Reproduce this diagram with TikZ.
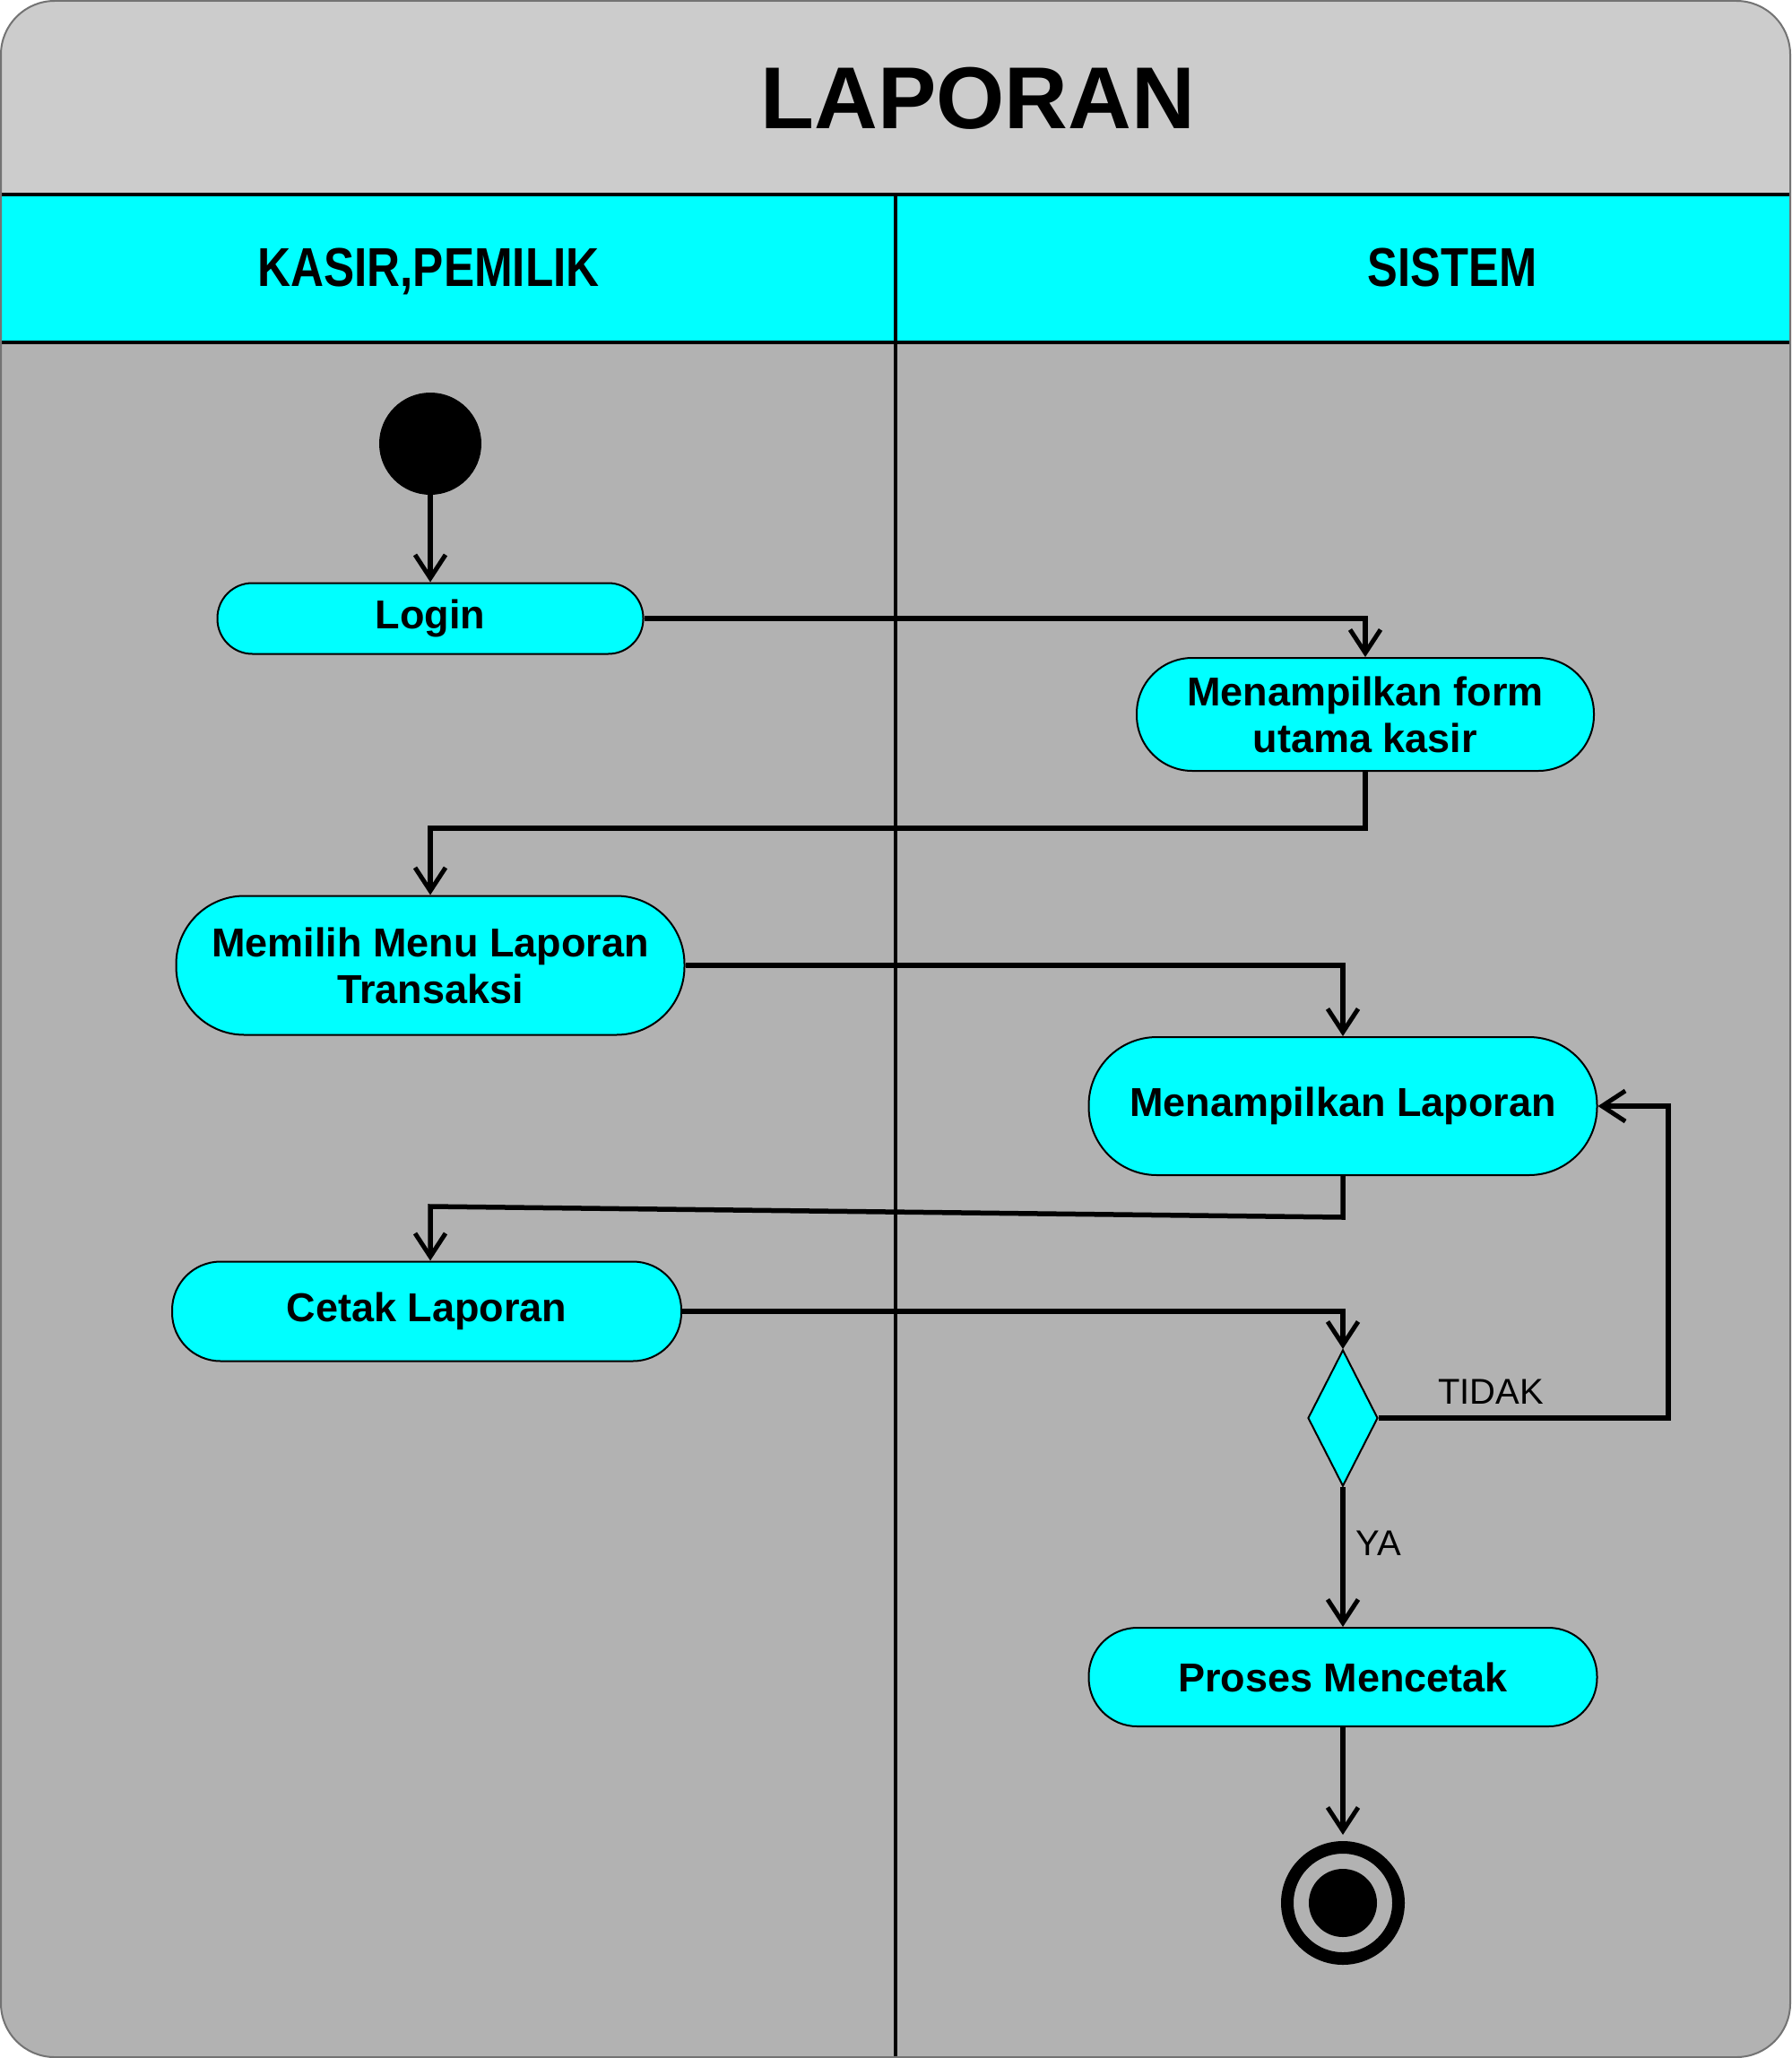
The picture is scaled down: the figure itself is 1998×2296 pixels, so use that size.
\documentclass[tikz,border=0pt]{standalone}
\usepackage{fontspec}
\setmainfont{Liberation Sans}
\usetikzlibrary{arrows.meta,shapes.geometric}
\definecolor{aqua}{HTML}{00FFFF}
\definecolor{hdr}{HTML}{CCCCCC}
\definecolor{lanegray}{HTML}{B2B2B2}
\begin{document}
\begin{tikzpicture}[x=0.5pt,y=-0.5pt,
  act/.style={draw=black, fill=aqua, line width=1pt, rectangle, align=center, inner sep=0pt,
    font=\fontsize{22.5}{26}\selectfont\bfseries},
  conn/.style={line width=2.75pt, -{Straight Barb[length=13pt, width=17pt, line width=2.5pt]}},
  lbl/.style={font=\fontsize{20}{24}\selectfont, inner sep=0pt},
  lanehead/.style={font=\fontsize{30.5}{34}\selectfont\bfseries, inner sep=0pt, anchor=base}]
\useasboundingbox (0,0) rectangle (1998,2296);
\begin{scope}
  \path[clip, rounded corners=30pt] (1,1) rectangle (1997,2295);
  \fill[hdr] (0,0) rectangle (1998,217);
  \fill[aqua] (0,217) rectangle (1998,382);
  \fill[lanegray] (0,382) rectangle (1998,2296);
  \draw[line width=2pt] (0,217) -- (1998,217);
  \draw[line width=2pt] (0,382) -- (1998,382);
  \draw[line width=2.25pt] (999,217) -- (999,2296);
\end{scope}
\draw[rounded corners=30pt, line width=1pt, draw=black!55] (1,1) rectangle (1997,2295);

\node[font=\fontsize{49}{52}\selectfont\bfseries, inner sep=0pt] (title) at (1091,110) {LAPORAN};
\node[lanehead] (h1) at (478,319) {\scalebox{0.84}[1]{KASIR,PEMILIK}};
\node[lanehead] (h2) at (1620,319) {\scalebox{0.83}[1]{SISTEM}};

\node[circle, fill=black, minimum size=57pt, inner sep=0pt] (start) at (480,495) {};
\node[act, minimum width=237.5pt, minimum height=39.5pt, rounded corners=19.5pt] (login) at (480,690) {Login};
\node[act, minimum width=255pt, minimum height=63pt, rounded corners=31pt] (form) at (1523,797) {Menampilkan form\\utama kasir};
\node[act, minimum width=283.5pt, minimum height=77.5pt, rounded corners=38pt] (menu) at (480,1077) {Memilih Menu Laporan\\Transaksi};
\node[act, minimum width=283.5pt, minimum height=77pt, rounded corners=38pt] (lap) at (1498,1234) {Menampilkan Laporan};
\node[act, minimum width=284pt, minimum height=55.5pt, rounded corners=27pt] (cetak) at (476,1463) {Cetak Laporan};
\node[diamond, draw=black, fill=aqua, line width=1pt, inner sep=0pt, minimum width=39pt, minimum height=76pt] (dec) at (1498,1582) {};
\node[act, minimum width=283.5pt, minimum height=55pt, rounded corners=27pt] (proses) at (1498,1871) {Proses Mencetak};
\node[circle, draw=black, line width=7pt, minimum size=62pt, inner sep=0pt] (stop) at (1498,2123) {};
\fill[black] (stop.center) circle (19pt);

\coordinate (b1) at (1498,1358);
\coordinate (b2) at (480,1346);

\draw[conn] (start.south) -- (login.north);
\draw[conn] (login.east) -| (form.north);
\draw[conn] (form.south) -- ++(0,63) -| (menu.north);
\draw[conn] (menu.east) -| (lap.north);
\draw[conn] (lap.south) -- (b1) -- (b2) -- (b2 |- cetak.north);
\draw[conn] (cetak.east) -| (dec.north);
\draw[conn] (dec.east) -- ++(323,0) |- (lap.east);
\draw[conn] (dec.south) -- (proses.north);
\draw[conn, shorten >=3.5pt] (proses.south) -- (stop.north);

\node[lbl] (tidak) at (1663,1553) {TIDAK};
\node[lbl] (ya) at (1538,1722) {YA};
\end{tikzpicture}
\end{document}
